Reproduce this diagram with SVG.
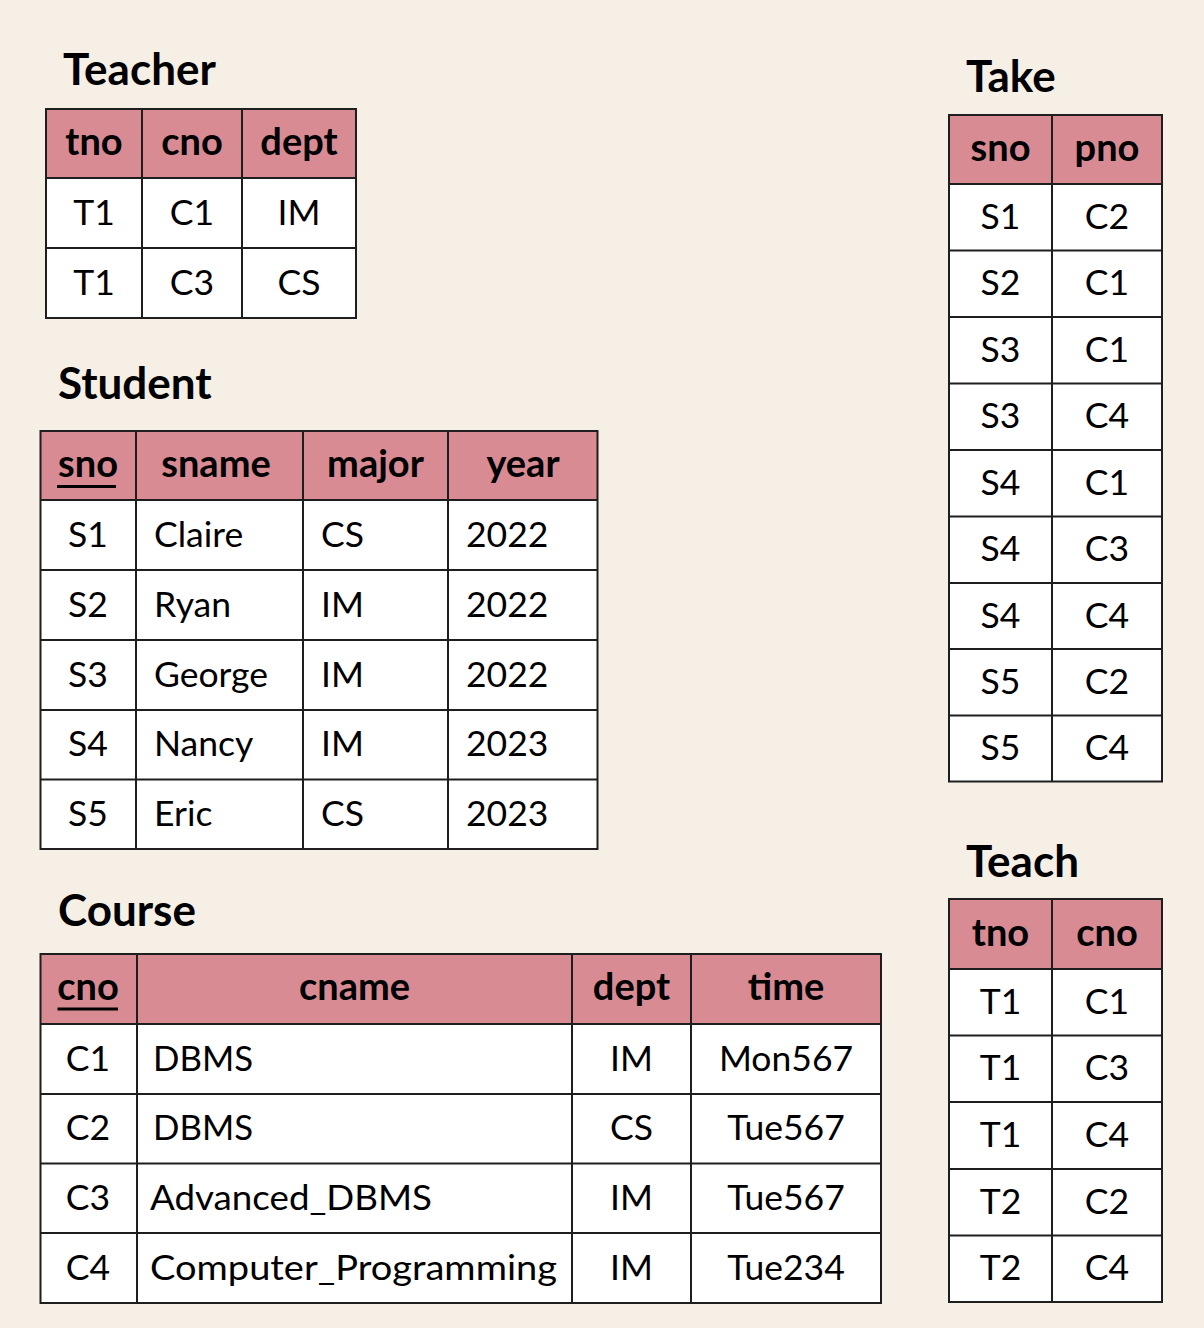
<svg xmlns="http://www.w3.org/2000/svg" width="1204" height="1328" viewBox="0 0 1204 1328">
<style>
.bg{fill:#F6EFE6}
.hd{fill:#D98B93}
.bd{fill:#FFFFFF}
.grid{fill:none;stroke:#1E1E1E;stroke-width:2}
.ttl{font-family:Lato,"Liberation Sans",sans-serif;font-weight:700;font-size:44px;fill:#000}
.h{font-family:Lato,"Liberation Sans",sans-serif;font-weight:700;font-size:38px;fill:#000;text-anchor:middle}
.c{font-family:Lato,"Liberation Sans",sans-serif;font-size:35.5px;fill:#000;text-anchor:middle}
.l{font-family:Lato,"Liberation Sans",sans-serif;font-size:35.5px;fill:#000;text-anchor:start}
.ul{stroke:#000;stroke-width:3}
</style>
<rect class="bg" x="0" y="0" width="1204" height="1328"/>

<g id="teacher">
<text class="ttl" x="63" y="85">Teacher</text>
<rect class="hd" x="46" y="109" width="310" height="69"/>
<rect class="bd" x="46" y="178" width="310" height="140"/>
<path class="grid" d="M46 109H356V318H46Z M46 178H356 M46 248H356 M142 109V318 M242 109V318"/>
<text class="h" x="94" y="155">tno</text>
<text class="h" x="192" y="155">cno</text>
<text class="h" x="299" y="155">dept</text>
<text class="c" x="94" y="225">T1</text>
<text class="c" x="192" y="225">C1</text>
<text class="c" x="299" y="225">IM</text>
<text class="c" x="94" y="295">T1</text>
<text class="c" x="192" y="295">C3</text>
<text class="c" x="299" y="295">CS</text>
</g>

<g id="student">
<text class="ttl" x="58" y="399">Student</text>
<rect class="hd" x="40.5" y="431" width="557" height="69"/>
<rect class="bd" x="40.5" y="500" width="557" height="349"/>
<path class="grid" d="M40.5 431H597.5V849H40.5Z M40.5 500H597.5 M40.5 570H597.5 M40.5 640H597.5 M40.5 710H597.5 M40.5 779.5H597.5 M136 431V849 M303 431V849 M448 431V849"/>
<text class="h" x="88" y="477">sno</text>
<line class="ul" x1="57" y1="486.5" x2="116" y2="486.5"/>
<text class="h" x="216" y="477">sname</text>
<text class="h" x="375.5" y="477">major</text>
<text class="h" x="523" y="477">year</text>
<text class="c" x="88" y="547">S1</text><text class="l" x="154" y="547">Claire</text><text class="l" x="321" y="547">CS</text><text class="l" x="466" y="547">2022</text>
<text class="c" x="88" y="617">S2</text><text class="l" x="154" y="617">Ryan</text><text class="l" x="321" y="617">IM</text><text class="l" x="466" y="617">2022</text>
<text class="c" x="88" y="687">S3</text><text class="l" x="154" y="687">George</text><text class="l" x="321" y="687">IM</text><text class="l" x="466" y="687">2022</text>
<text class="c" x="88" y="756">S4</text><text class="l" x="154" y="756">Nancy</text><text class="l" x="321" y="756">IM</text><text class="l" x="466" y="756">2023</text>
<text class="c" x="88" y="826">S5</text><text class="l" x="154" y="826">Eric</text><text class="l" x="321" y="826">CS</text><text class="l" x="466" y="826">2023</text>
</g>

<g id="course">
<text class="ttl" x="58" y="926">Course</text>
<rect class="hd" x="40.5" y="954" width="840.5" height="70"/>
<rect class="bd" x="40.5" y="1024" width="840.5" height="279"/>
<path class="grid" d="M40.5 954H881V1303H40.5Z M40.5 1024H881 M40.5 1094H881 M40.5 1163.5H881 M40.5 1233H881 M137 954V1303 M572 954V1303 M691 954V1303"/>
<text class="h" x="88" y="1000">cno</text>
<line class="ul" x1="57.5" y1="1009" x2="118" y2="1009"/>
<text class="h" x="354.5" y="1000">cname</text>
<text class="h" x="631.5" y="1000">dept</text>
<text class="h" x="786" y="1000">time</text>
<text class="c" x="88" y="1071">C1</text><text class="l" x="153" y="1071" textLength="100" lengthAdjust="spacingAndGlyphs">DBMS</text><text class="c" x="631.5" y="1071">IM</text><text class="c" x="786" y="1071">Mon567</text>
<text class="c" x="88" y="1140">C2</text><text class="l" x="153" y="1140" textLength="100" lengthAdjust="spacingAndGlyphs">DBMS</text><text class="c" x="631.5" y="1140">CS</text><text class="c" x="786" y="1140">Tue567</text>
<text class="c" x="88" y="1210">C3</text><text class="l" x="150" y="1210" textLength="282" lengthAdjust="spacingAndGlyphs">Advanced_DBMS</text><text class="c" x="631.5" y="1210">IM</text><text class="c" x="786" y="1210">Tue567</text>
<text class="c" x="88" y="1280">C4</text><text class="l" x="150" y="1280" textLength="407" lengthAdjust="spacingAndGlyphs">Computer_Programming</text><text class="c" x="631.5" y="1280">IM</text><text class="c" x="786" y="1280">Tue234</text>
</g>

<g id="take">
<text class="ttl" x="966" y="92">Take</text>
<rect class="hd" x="949" y="115" width="213" height="69"/>
<rect class="bd" x="949" y="184" width="213" height="597.5"/>
<path class="grid" d="M949 115H1162V781.5H949Z M949 184H1162 M949 250.5H1162 M949 317H1162 M949 383.5H1162 M949 450H1162 M949 516.5H1162 M949 583H1162 M949 649H1162 M949 715.5H1162 M1052 115V781.5"/>
<text class="h" x="1000.5" y="161">sno</text>
<text class="h" x="1107" y="161">pno</text>
<text class="c" x="1000.5" y="229">S1</text><text class="c" x="1107" y="229">C2</text>
<text class="c" x="1000.5" y="295">S2</text><text class="c" x="1107" y="295">C1</text>
<text class="c" x="1000.5" y="362">S3</text><text class="c" x="1107" y="362">C1</text>
<text class="c" x="1000.5" y="428">S3</text><text class="c" x="1107" y="428">C4</text>
<text class="c" x="1000.5" y="495">S4</text><text class="c" x="1107" y="495">C1</text>
<text class="c" x="1000.5" y="561">S4</text><text class="c" x="1107" y="561">C3</text>
<text class="c" x="1000.5" y="628">S4</text><text class="c" x="1107" y="628">C4</text>
<text class="c" x="1000.5" y="694">S5</text><text class="c" x="1107" y="694">C2</text>
<text class="c" x="1000.5" y="760">S5</text><text class="c" x="1107" y="760">C4</text>
</g>

<g id="teach">
<text class="ttl" x="966" y="877">Teach</text>
<rect class="hd" x="949" y="899" width="213" height="70"/>
<rect class="bd" x="949" y="969" width="213" height="333"/>
<path class="grid" d="M949 899H1162V1302H949Z M949 969H1162 M949 1035.5H1162 M949 1102H1162 M949 1169H1162 M949 1235.5H1162 M1052 899V1302"/>
<text class="h" x="1000.5" y="945.5">tno</text>
<text class="h" x="1107" y="945.5">cno</text>
<text class="c" x="1000.5" y="1014">T1</text><text class="c" x="1107" y="1014">C1</text>
<text class="c" x="1000.5" y="1080">T1</text><text class="c" x="1107" y="1080">C3</text>
<text class="c" x="1000.5" y="1147">T1</text><text class="c" x="1107" y="1147">C4</text>
<text class="c" x="1000.5" y="1214">T2</text><text class="c" x="1107" y="1214">C2</text>
<text class="c" x="1000.5" y="1280">T2</text><text class="c" x="1107" y="1280">C4</text>
</g>
</svg>
